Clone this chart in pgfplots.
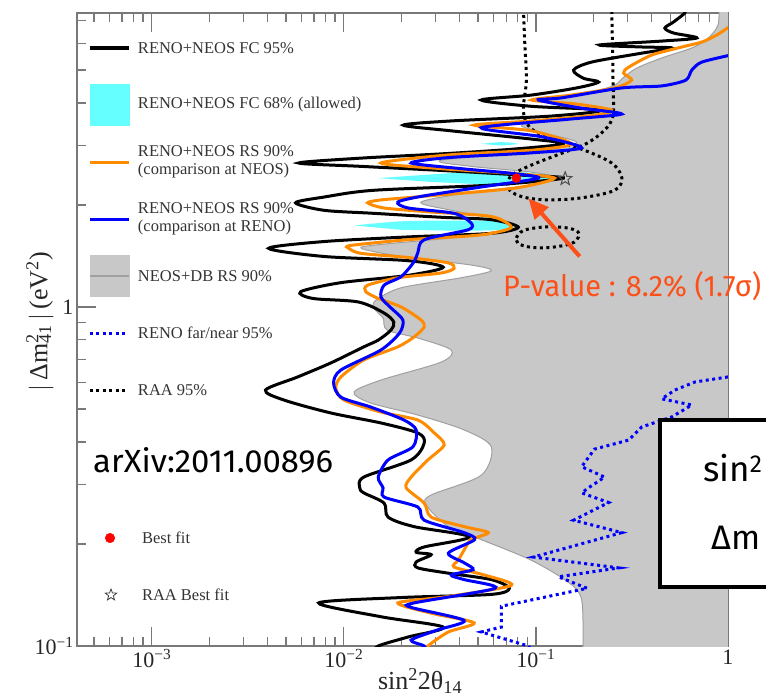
\documentclass[border=0pt]{standalone}
\usepackage{fontspec}
\setmainfont{Liberation Serif}
\newfontfamily\annot{Fira Sans}
\usepackage{graphicx}
\usepackage{pgfplots}
\pgfplotsset{compat=1.18}
\usetikzlibrary{arrows.meta}

\definecolor{neosgray}{RGB}{200,200,200}
\definecolor{neosedge}{RGB}{160,160,160}
\definecolor{fccyan}{RGB}{102,255,255}
\definecolor{rsorange}{RGB}{255,140,0}
\definecolor{rsblue}{RGB}{0,0,255}
\definecolor{axisgray}{RGB}{120,120,120}
\definecolor{notered}{RGB}{252,80,24}

% open five-pointed star mark
\pgfdeclareplotmark{ostar}{%
  \pgfpathmoveto{\pgfpointpolar{90}{\pgfplotmarksize}}%
  \pgfpathlineto{\pgfpointpolar{126}{0.42\pgfplotmarksize}}%
  \pgfpathlineto{\pgfpointpolar{162}{\pgfplotmarksize}}%
  \pgfpathlineto{\pgfpointpolar{198}{0.42\pgfplotmarksize}}%
  \pgfpathlineto{\pgfpointpolar{234}{\pgfplotmarksize}}%
  \pgfpathlineto{\pgfpointpolar{270}{0.42\pgfplotmarksize}}%
  \pgfpathlineto{\pgfpointpolar{306}{\pgfplotmarksize}}%
  \pgfpathlineto{\pgfpointpolar{342}{0.42\pgfplotmarksize}}%
  \pgfpathlineto{\pgfpointpolar{18}{\pgfplotmarksize}}%
  \pgfpathlineto{\pgfpointpolar{54}{0.42\pgfplotmarksize}}%
  \pgfpathclose
  \pgfusepathqstroke
}

% fixed-height legend row
\newcommand{\lrow}[1]{\parbox[c][57pt][c]{300pt}{\raggedright #1}}

\tikzset{dots/.style={line width=3pt, dash pattern=on 3pt off 3.5pt}}

\begin{document}
\begin{tikzpicture}
\useasboundingbox (0,0) rectangle (766pt,699pt);
\clip (0,0) rectangle (766pt,699pt);

\begin{axis}[
  at={(77pt,53pt)}, anchor=south west,
  scale only axis, width=651pt, height=633pt,
  xmode=log, ymode=log,
  xmin=4.08e-4, xmax=1, ymin=0.1, ymax=7.37,
  xtick={0.001,0.01,0.1,1},
  xticklabels={10\textsuperscript{−3},10\textsuperscript{−2},10\textsuperscript{−1},1},
  ytick={0.1,1},
  yticklabels={10\textsuperscript{−1},1},
  minor xtick={5e-4,6e-4,7e-4,8e-4,9e-4,0.002,0.003,0.004,0.005,0.006,0.007,0.008,0.009,0.02,0.03,0.04,0.05,0.06,0.07,0.08,0.09,0.2,0.3,0.4,0.5,0.6,0.7,0.8,0.9},
  minor ytick={0.2,0.3,0.4,0.5,0.6,0.7,0.8,0.9,2,3,4,5,6,7},
  major tick length=19pt, minor tick length=9.5pt,
  tick align=inside,
  tick style={axisgray, line width=1.2pt},
  axis line style={axisgray, line width=1.5pt},
  ticklabel style={font=\fontsize{22}{22}\selectfont, text=black!85},
  xlabel={sin\textsuperscript{2}2θ\textsubscript{14}},
  ylabel={$|$\,Δm\rlap{\textsuperscript{2}}\textsubscript{41}\,$|$\,(eV\textsuperscript{2})},
  xlabel style={at={(axis description cs:0.527,-0.0690)}, anchor=base, font=\fontsize{26}{26}\selectfont, text=black!85},
  ylabel style={at={(axis description cs:-0.0568,0.512)}, anchor=center, font=\fontsize{26}{26}\selectfont, text=black!85},
  legend style={at={(axis description cs:0.0169,0.9897)}, anchor=north west,
    draw=none, fill=none, inner sep=0pt, outer sep=0pt, row sep=0pt, column sep=7pt,
    font=\fontsize{16.5}{18}\selectfont,
    nodes={inner sep=0pt, outer sep=0pt, text depth={}, text=black!80}},
  legend cell align=left,
]

% legend rows
\addlegendimage{legend image code/.code={\draw[black,line width=4pt] (0pt,0pt) -- (39pt,0pt);}}
\addlegendentry{\lrow{RENO+NEOS FC 95\%}}
\addlegendimage{legend image code/.code={\fill[fccyan] (0pt,-20.5pt) rectangle (39pt,20.5pt);}}
\addlegendentry{\lrow{RENO+NEOS FC 68\% (allowed)}}
\addlegendimage{legend image code/.code={\draw[rsorange,line width=3pt] (0pt,0pt) -- (39pt,0pt);}}
\addlegendentry{\lrow{RENO+NEOS RS 90\%\\(comparison at NEOS)}}
\addlegendimage{legend image code/.code={\draw[rsblue,line width=3pt] (0pt,0pt) -- (39pt,0pt);}}
\addlegendentry{\lrow{RENO+NEOS RS 90\%\\(comparison at RENO)}}
\addlegendimage{legend image code/.code={\fill[neosgray] (0pt,-20.5pt) rectangle (39pt,20.5pt);\draw[neosedge,line width=1.5pt] (0pt,0pt) -- (39pt,0pt);}}
\addlegendentry{\lrow{NEOS+DB RS 90\%}}
\addlegendimage{legend image code/.code={\draw[rsblue,dots] (0pt,0pt) -- (37pt,0pt);}}
\addlegendentry{\lrow{RENO far/near 95\%}}
\addlegendimage{legend image code/.code={\draw[black,dots] (0pt,0pt) -- (37pt,0pt);}}
\addlegendentry{\lrow{RAA 95\%}}

% NEOS+DB RS 90% excluded region
\addplot[forget plot, fill=neosgray, draw=neosedge, line width=1pt, smooth, tension=0.5] coordinates {
(0.90,8.0) (0.887,6.79) (0.777,6.17) (0.648,5.81) (0.452,5.43) (0.335,5.07) (0.286,4.76)
(0.252,4.49) (0.173,4.25) (0.107,4.08) (0.144,3.91) (0.233,3.76) (0.136,3.61) (0.084,3.44)
(0.113,3.25) (0.163,3.06) (0.107,2.90) (0.0321,2.71) (0.046,2.60) (0.0947,2.50) (0.128,2.40)
(0.0947,2.29) (0.046,2.18) (0.0252,2.04) (0.0362,1.93) (0.066,1.81) (0.0791,1.72) (0.046,1.62)
(0.0156,1.53) (0.0123,1.49) (0.0199,1.41) (0.046,1.33) (0.0586,1.28) (0.0408,1.22) (0.0199,1.14)
(0.0147,1.048) (0.0143,0.994) (0.016,0.928) (0.0168,0.855) (0.0243,0.810) (0.0362,0.747)
(0.0321,0.688) (0.0156,0.609) (0.0113,0.561) (0.0138,0.521) (0.0243,0.480) (0.0423,0.434)
(0.0586,0.387) (0.0519,0.319) (0.0285,0.279) (0.0268,0.261) (0.035,0.225) (0.0519,0.206)
(0.0947,0.179) (0.148,0.154) (0.173,0.137) (0.176,0.100) (0.176,0.09) (1.5,0.09) (1.5,8.0)
} -- cycle;

% RENO+NEOS FC 68% allowed islands
\addplot[forget plot, fill=fccyan, draw=none, smooth] coordinates {
(0.0519,3.03) (0.066,3.065) (0.081,3.03) (0.066,2.995) } -- cycle;
\addplot[forget plot, fill=fccyan, draw=none, smooth] coordinates {
(0.0151,2.40) (0.0252,2.45) (0.046,2.50) (0.084,2.50) (0.113,2.45) (0.125,2.40)
(0.113,2.35) (0.084,2.31) (0.046,2.31) (0.0252,2.35) } -- cycle;
\addplot[forget plot, fill=fccyan, draw=none, smooth] coordinates {
(0.0113,1.74) (0.0199,1.79) (0.0408,1.80) (0.066,1.79) (0.0772,1.74)
(0.066,1.69) (0.0408,1.68) (0.0199,1.69) } -- cycle;

% RENO far/near 95%
\addplot[forget plot, rsblue, dots] coordinates {
(1.0,0.622) (0.673,0.601) (0.529,0.569) (0.452,0.536) (0.648,0.514) (0.510,0.474) (0.356,0.443)
(0.304,0.405) (0.202,0.381) (0.173,0.338) (0.228,0.315) (0.188,0.293) (0.173,0.283) (0.239,0.265)
(0.157,0.235) (0.280,0.216) (0.0970,0.183) (0.270,0.170) (0.131,0.160) (0.185,0.148)
(0.066,0.131) (0.066,0.1137) (0.0519,0.110) (0.0913,0.100) (0.095,0.097)
};

% RAA 95%
\addplot[forget plot, black, dots, smooth, tension=0.55] coordinates {
(0.0861,7.6) (0.0875,6.0) (0.0892,4.67) (0.0860,3.81) (0.0925,3.40) (0.1205,3.11) (0.179,2.90)
(0.248,2.66) (0.280,2.41) (0.257,2.21) (0.173,2.10) (0.116,2.07) (0.0861,2.11) (0.0731,2.21)
(0.0718,2.37) (0.0791,2.50) (0.1006,2.66) (0.1358,2.84) (0.184,3.04) (0.228,3.33) (0.252,3.68)
(0.252,4.67) (0.250,6.13) (0.248,7.6)
};
\addplot[forget plot, black, dots, smooth, tension=0.6] coordinates {
(0.0791,1.60) (0.0857,1.68) (0.1068,1.72) (0.1358,1.72) (0.1627,1.68) (0.1668,1.61)
(0.1532,1.54) (0.1205,1.50) (0.0947,1.50) (0.0807,1.54) (0.0791,1.60)
};

% RENO+NEOS FC 95%
\addplot[forget plot, black, line width=3pt, smooth, tension=0.5] coordinates {
(0.60,7.6) (0.596,7.37) (0.52,6.93) (0.469,6.65) (0.522,6.43) (0.689,6.22) (0.452,6.09) (0.214,5.93)
(0.356,5.85) (0.510,5.81) (0.356,5.61) (0.195,5.28) (0.157,5.00) (0.177,4.73) (0.212,4.61)
(0.163,4.43) (0.0947,4.22) (0.0519,4.08) (0.0947,3.91) (0.220,3.81) (0.1205,3.66) (0.0362,3.54)
(0.0204,3.44) (0.0362,3.31) (0.0947,3.13) (0.139,3.03) (0.0745,2.92) (0.0321,2.83) (0.0123,2.75)
(0.00582,2.66) (0.0123,2.60) (0.0362,2.52) (0.0840,2.45) (0.139,2.40) (0.0586,2.29) (0.0143,2.21)
(0.00785,2.11) (0.00561,2.03) (0.00785,1.93) (0.0143,1.89) (0.0321,1.84) (0.0586,1.81) (0.081,1.72)
(0.0586,1.65) (0.0216,1.61) (0.00785,1.56) (0.00406,1.49) (0.00785,1.41) (0.0216,1.37) (0.0329,1.31)
(0.0216,1.24) (0.00965,1.18) (0.00596,1.11) (0.0069,1.06) (0.0119,1.035) (0.0162,0.960) (0.0182,0.903)
(0.0176,0.855) (0.0151,0.799) (0.0127,0.763) (0.00855,0.684) (0.00575,0.622) (0.00391,0.569)
(0.00486,0.532) (0.00855,0.487) (0.0156,0.455) (0.0243,0.425) (0.0262,0.397) (0.0224,0.354)
(0.0127,0.315) (0.0121,0.293) (0.0127,0.283) (0.0162,0.264) (0.0170,0.240) (0.0232,0.225)
(0.0450,0.210) (0.0262,0.196) (0.0238,0.189) (0.0285,0.186) (0.0238,0.177) (0.0243,0.170)
(0.0350,0.164) (0.0586,0.157) (0.0727,0.148) (0.0586,0.142) (0.0199,0.139) (0.00740,0.134)
(0.0156,0.122) (0.0329,0.1137) (0.0216,0.1063) (0.0151,0.100) (0.0140,0.095)
};

% RENO+NEOS RS 90% (comparison at NEOS)
\addplot[forget plot, rsorange, line width=3pt, smooth, tension=0.45] coordinates {
(1.05,6.8) (0.876,6.35) (0.731,6.05) (0.575,5.85) (0.401,5.54) (0.304,5.10) (0.286,4.90) (0.315,4.67)
(0.257,4.43) (0.153,4.22) (0.0947,4.08) (0.163,3.97) (0.248,3.81) (0.202,3.68) (0.0947,3.54)
(0.0477,3.44) (0.0947,3.31) (0.153,3.03) (0.0947,2.90) (0.0350,2.81) (0.0156,2.66) (0.0321,2.56)
(0.0745,2.48) (0.125,2.40) (0.0762,2.24) (0.0232,2.11) (0.0156,2.07) (0.0133,2.03) (0.0162,1.96)
(0.0274,1.91) (0.0586,1.85) (0.0745,1.72) (0.0586,1.65) (0.0444,1.62) (0.0216,1.58) (0.0109,1.52)
(0.0106,1.49) (0.0123,1.44) (0.0216,1.40) (0.0350,1.35) (0.0375,1.30) (0.0321,1.26) (0.0191,1.22)
(0.0133,1.16) (0.0130,1.11) (0.0151,1.06) (0.0199,1.00) (0.0252,0.916) (0.0262,0.873) (0.0232,0.816)
(0.0191,0.763) (0.0127,0.698) (0.00965,0.622) (0.00908,0.577) (0.0100,0.532) (0.0156,0.490)
(0.0243,0.464) (0.0296,0.425) (0.0333,0.392) (0.0274,0.354) (0.0224,0.315) (0.0211,0.293)
(0.0262,0.264) (0.0285,0.240) (0.0423,0.225) (0.0565,0.216) (0.0460,0.206) (0.0423,0.192)
(0.0394,0.179) (0.0375,0.171) (0.0538,0.162) (0.0745,0.151) (0.0350,0.140) (0.0191,0.134)
(0.0285,0.125) (0.0477,0.117) (0.0350,0.110) (0.0274,0.100) (0.026,0.095)
};

% RENO+NEOS RS 90% (comparison at RENO)
\addplot[forget plot, rsblue, line width=3pt, smooth, tension=0.45] coordinates {
(1.05,5.55) (0.731,5.28) (0.648,5.00) (0.603,4.67) (0.452,4.49) (0.280,4.43) (0.136,4.14) (0.103,4.08)
(0.173,3.86) (0.280,3.71) (0.147,3.58) (0.0519,3.38) (0.107,3.18) (0.173,2.95) (0.0947,2.85)
(0.0350,2.76) (0.0224,2.66) (0.0408,2.56) (0.0745,2.48) (0.103,2.40) (0.0519,2.26) (0.0252,2.12)
(0.0191,2.04) (0.0216,1.96) (0.0375,1.89) (0.0460,1.77) (0.0444,1.69) (0.0262,1.58) (0.0243,1.45)
(0.0232,1.36) (0.0199,1.23) (0.0162,1.16) (0.0156,1.07) (0.0176,0.994) (0.0203,0.916) (0.0195,0.838)
(0.0156,0.747) (0.00965,0.652) (0.00884,0.597) (0.00965,0.542) (0.0138,0.507) (0.0206,0.464)
(0.0238,0.434) (0.0229,0.387) (0.0170,0.354) (0.0151,0.315) (0.0160,0.293) (0.0162,0.275)
(0.0243,0.257) (0.0262,0.235) (0.0423,0.216) (0.0480,0.206) (0.0350,0.188) (0.0423,0.176)
(0.0471,0.168) (0.0362,0.162) (0.0423,0.157) (0.0613,0.148) (0.0232,0.134) (0.0224,0.130)
(0.0423,0.119) (0.0307,0.1115) (0.0224,0.1041) (0.0262,0.100) (0.027,0.095)
};

% best fits
\addplot[forget plot, only marks, mark=*, mark size=4.5pt, red] coordinates {(0.0791,2.40)};
\addplot[forget plot, only marks, mark=ostar, mark size=7pt, black!70, line width=1pt] coordinates {(0.142,2.39)};

% p-value arrow
\draw[notered, line width=4pt, -{Triangle[length=20pt,width=18pt]}] (axis cs:0.169,1.41) -- (axis cs:0.0915,2.09);
\end{axis}

% second legend block for the best-fit markers
\begin{axis}[
  at={(77pt,53pt)}, anchor=south west,
  scale only axis, width=651pt, height=633pt,
  hide axis, xmin=0, xmax=1, ymin=0, ymax=1,
  legend style={at={(axis description cs:0.0169,0.2156)}, anchor=north west,
    draw=none, fill=none, inner sep=0pt, outer sep=0pt, row sep=0pt, column sep=7pt,
    font=\fontsize{16.5}{18}\selectfont,
    nodes={inner sep=0pt, outer sep=0pt, text depth={}, text=black!80}},
  legend cell align=left,
]
\addlegendimage{legend image code/.code={\path[draw=none,fill=none] (0pt,0pt) -- (47pt,0pt);\fill[red] (22pt,0pt) circle (4.8pt);}}
\addlegendentry{\lrow{Best fit}}
\addlegendimage{legend image code/.code={\path[draw=none,fill=none] (0pt,0pt) -- (47pt,0pt);\path[draw=black!75,line width=0.8pt] plot[only marks, mark=ostar, mark size=6pt] coordinates {(23pt,0pt)};}}
\addlegendentry{\lrow{RAA Best fit}}
\end{axis}

% annotations
\node[anchor=base west, inner sep=0pt] at (93pt,226pt)
  {\annot\resizebox{240pt}{25pt}{arXiv:2011.00896}};
\node[anchor=base west, inner sep=0pt, text=notered] at (503pt,402pt)
  {\annot\resizebox{258pt}{25pt}{P-value : 8.2\% (1.7σ)}};
\draw[line width=4.5pt, fill=white] (660pt,112pt) rectangle (800pt,279pt);
\node[anchor=base west, inner sep=0pt] at (703pt,217pt)
  {\annot\fontsize{35}{35}\selectfont sin\textsuperscript{2}};
\node[anchor=base west, inner sep=0pt] at (711pt,149pt)
  {\annot\fontsize{34}{34}\selectfont Δm};
\end{tikzpicture}
\end{document}
